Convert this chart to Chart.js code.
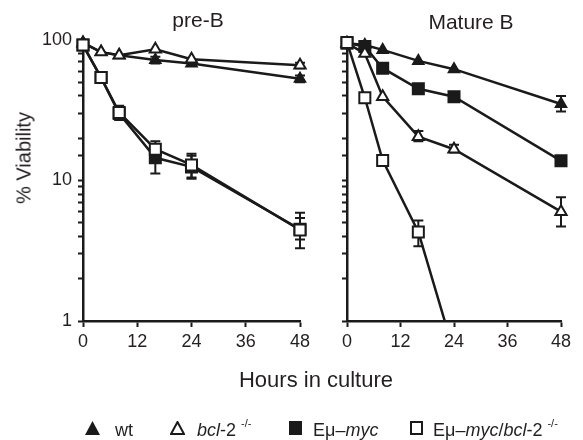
<!DOCTYPE html>
<html>
<head>
<meta charset="utf-8">
<script src="https://cdn.jsdelivr.net/npm/chart.js@4/dist/chart.umd.min.js"></script>
<style>
  body { margin: 0; width: 583px; height: 440px; position: relative; overflow: hidden; background: #fff;
         font-family: "Liberation Sans", Arial, sans-serif; color: #231f20; }
  canvas { position: absolute; left: 0; top: 0; }
  .txt { position: absolute; white-space: nowrap; }
  .ctr { transform: translate(-50%, -50%); }
  .leg { position: absolute; top: 420px; font-size: 18px; line-height: 20px; white-space: nowrap; }
  .leg sup { font-size: 11px; vertical-align: baseline; position: relative; top: -9px; margin-left: 5px; }
  .leg svg { position: absolute; }
</style>
</head>
<body>
<canvas id="preB" width="583" height="440"></canvas>
<canvas id="matureB" width="583" height="440"></canvas>

<div class="txt ctr" style="left:198px; top:20px; font-size:21px;">pre-B</div>
<div class="txt ctr" style="left:471px; top:22px; font-size:21px;">Mature B</div>
<div class="txt ctr" style="left:24px; top:158px; font-size:20px; transform: translate(-50%,-50%) rotate(-90deg);">% Viability</div>
<div class="txt ctr" style="left:316px; top:380px; font-size:22px;">Hours in culture</div>

<!-- legend -->
<svg class="leg" style="left:85px; top:421px;" width="15" height="14"><polygon points="7.5,0 15,14 0,14" fill="#1a1a1a"/></svg>
<div class="leg" style="left:115px;">wt</div>
<svg class="leg" style="left:170px; top:421px;" width="15" height="14"><polygon points="7.5,1 14,13 1,13" fill="none" stroke="#1a1a1a" stroke-width="2"/></svg>
<div class="leg" style="left:197px;"><i>bcl</i>-2<sup>-/-</sup></div>
<svg class="leg" style="left:289px; top:421px;" width="13" height="14"><rect x="0" y="0" width="13" height="14" fill="#1a1a1a"/></svg>
<div class="leg" style="left:313px;">Eμ–<i>myc</i></div>
<svg class="leg" style="left:410px; top:421px;" width="13" height="14"><rect x="1" y="1" width="11" height="12" fill="none" stroke="#1a1a1a" stroke-width="2"/></svg>
<div class="leg" style="left:433px;">Eμ–<i>myc</i>/<i>bcl</i>-2<sup>-/-</sup></div>

<script>
const hours = [0, 4, 8, 16, 24, 48];

// pre-B, % viability
const preB_wt = [96, 82, 78, 72, 68, 53];
const preB_bcl2 = [95, 82, 78, 86, 73, 66];
const preB_myc = [92, 54, 30, 14.5, 12.5, 4.5];
const preB_mycBcl2 = [92, 54, 30.5, 16.7, 12.9, 4.45];
// error bars [low, high]
const preB_wt_err = [null, null, null, [68, 76], null, [50, 56]];
const preB_bcl2_err = [null, null, null, null, null, [63, 69]];
const preB_myc_err = [null, null, [27, 34], [11.2, 18], [10.3, 15.5], [3.8, 5.4]];
const preB_mycBcl2_err = [null, null, [28, 33], [15, 19], [10.5, 15], [3.3, 5.9]];

// Mature B, % viability
const matB_wt = [95, 92, 85, 71, 62, 35];
const matB_bcl2 = [95, 80, 39.5, 20.5, 16.7, 6.0];
const matB_myc = [95, 90, 63, 45, 39.5, 13.8];
const matB_mycBcl2 = [96, 38.8, 13.9, 4.3, 0.6, null];
const matB_wt_err = [null, null, null, null, null, [31, 40]];
const matB_bcl2_err = [null, null, null, [19, 22.5], [15.8, 18], [4.7, 7.6]];
const matB_myc_err = [null, null, null, null, null, [12.8, 14.8]];
const matB_mycBcl2_err = [null, null, null, [3.4, 5.2], null, null];

const ink = "#1a1a1a";
const textInk = "#231f20";
Chart.defaults.font.family = '"Liberation Sans", Arial, sans-serif';

function series(label, vals, errs, shape, filled, order, clip) {
    let r = shape === "rect" ? 7.8 : 6.5;
    if (shape === "triangle" && filled) r = 6;
    return {
        label: label,
        data: hours.map((h, i) => ({ x: h, y: vals[i] })),
        errors: errs,
        borderColor: ink,
        borderWidth: 2.5,
        pointStyle: shape,
        pointRadius: r,
        pointBackgroundColor: filled ? ink : "#fff",
        pointBorderColor: ink,
        pointBorderWidth: 2,
        tension: 0,
        fill: false,
        spanGaps: false,
        order: order,
        clip: clip === undefined ? 10 : clip
    };
}

// draw error bars under the markers
const errorBars = {
    id: "errorBars",
    beforeDatasetsDraw(chart) {
        const ctx = chart.ctx;
        const xs = chart.scales.x, ys = chart.scales.y;
        ctx.save();
        ctx.strokeStyle = ink;
        ctx.lineWidth = 2;
        chart.data.datasets.forEach(ds => {
            (ds.errors || []).forEach((e, i) => {
                if (!e) return;
                const x = xs.getPixelForValue(hours[i]);
                const y1 = ys.getPixelForValue(e[0]);
                const y2 = ys.getPixelForValue(e[1]);
                ctx.beginPath();
                ctx.moveTo(x, y1); ctx.lineTo(x, y2);
                ctx.moveTo(x - 5, y1); ctx.lineTo(x + 5, y1);
                ctx.moveTo(x - 5, y2); ctx.lineTo(x + 5, y2);
                ctx.stroke();
            });
        });
        ctx.restore();
    }
};

function makeChart(id, datasets, pad, yWidth, showYLabels) {
    return new Chart(document.getElementById(id), {
        type: "line",
        data: { datasets: datasets },
        options: {
            responsive: false,
            animation: false,
            devicePixelRatio: 1,
            layout: { padding: pad },
            plugins: { legend: { display: false }, tooltip: { enabled: false } },
            scales: {
                x: {
                    type: "linear", min: 0, max: 48,
                    ticks: { stepSize: 12, color: textInk, font: { size: 18 }, padding: 4, maxRotation: 0 },
                    grid: { drawOnChartArea: false, tickLength: 6, tickWidth: 2, tickColor: ink },
                    border: { width: 2.5, color: ink },
                    afterFit: s => { s.height = 40; }
                },
                y: {
                    type: "logarithmic", min: 1, max: 100,
                    ticks: {
                        autoSkip: false, color: textInk, font: { size: 18 }, padding: 6,
                        callback: v => {
                            if (!showYLabels) return "";
                            const l = Math.log10(v);
                            return Math.abs(l - Math.round(l)) < 1e-6 ? String(Math.round(v)) : "";
                        }
                    },
                    grid: { drawOnChartArea: false, tickLength: 5, tickWidth: 2, tickColor: ink },
                    border: { width: 2.5, color: ink },
                    afterFit: s => { s.width = yWidth; }
                }
            }
        },
        plugins: [errorBars]
    });
}

makeChart("preB", [
    series("Eμ-myc/bcl-2-/-", preB_mycBcl2, preB_mycBcl2_err, "rect", false, 0),
    series("bcl-2-/-", preB_bcl2, preB_bcl2_err, "triangle", false, 1),
    series("Eμ-myc", preB_myc, preB_myc_err, "rect", true, 2),
    series("wt", preB_wt, preB_wt_err, "triangle", true, 3)
], { left: 0, top: 40, right: 283, bottom: 79 }, 83, true);

makeChart("matureB", [
    series("Eμ-myc/bcl-2-/-", matB_mycBcl2, matB_mycBcl2_err, "rect", false, 0,
           { left: 10, top: 10, right: 10, bottom: 0 }),
    series("bcl-2-/-", matB_bcl2, matB_bcl2_err, "triangle", false, 1),
    series("Eμ-myc", matB_myc, matB_myc_err, "rect", true, 2),
    series("wt", matB_wt, matB_wt_err, "triangle", true, 3)
], { left: 300, top: 40, right: 22, bottom: 79 }, 47, false);
</script>
</body>
</html>
